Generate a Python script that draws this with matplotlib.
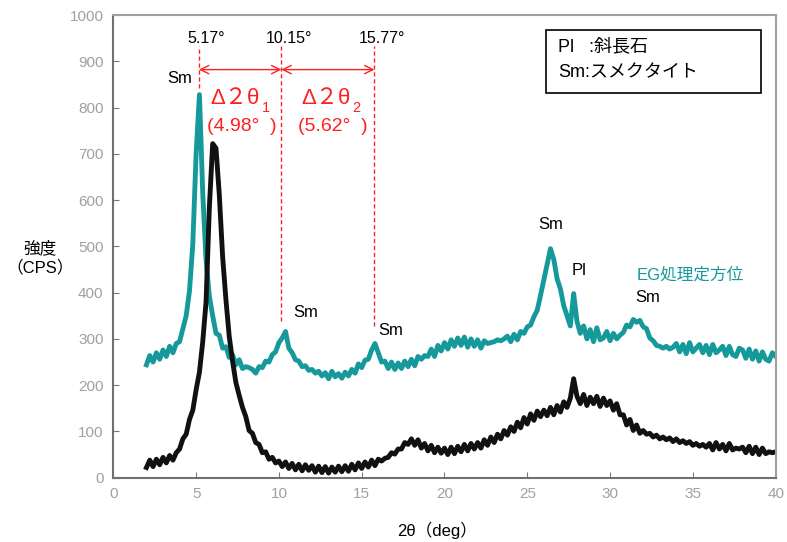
import numpy as np
import matplotlib
matplotlib.use('Agg')
import matplotlib.pyplot as plt
from matplotlib.patches import Rectangle

# 日本語 + 欧文のフォント (足りない字は次のフォントへ)
plt.rcParams['font.family'] = ['Liberation Sans', 'Noto Sans CJK JP']

# 2θ の格子 (0.2° 刻み)
two_theta = np.round(np.arange(2.0, 40.01, 0.2), 1)

# EG処理定方位 (teal)
cps_eg = [
    244, 264, 250, 270, 256, 276, 262, 284, 270, 290,   # 2.0-3.8
    294, 322, 350, 404, 505, 700, 828, 615, 470, 392,   # 4.0-5.8
    350, 312, 308, 280, 283, 260, 266, 244, 255, 236,   # 6.0-7.8
    240, 238, 234, 226, 240, 238, 252, 250, 266, 272,   # 8.0-9.8
    292, 302, 316, 280, 270, 255, 252, 240, 242, 232,   # 10.0-11.8
    234, 226, 230, 220, 227, 214, 230, 218, 225, 215,   # 12.0-13.8
    228, 220, 234, 226, 246, 238, 254, 256, 276, 290,   # 14.0-15.8
    270, 250, 252, 236, 250, 234, 248, 236, 252, 240,   # 16.0-17.8
    256, 242, 262, 256, 264, 262, 278, 262, 286, 274,   # 18.0-19.8
    292, 278, 298, 284, 302, 286, 304, 282, 300, 284,   # 20.0-21.8
    298, 280, 296, 290, 292, 294, 298, 296, 300, 306,   # 22.0-23.8
    294, 310, 298, 316, 312, 326, 330, 348, 362, 394,   # 24.0-25.8
    428, 462, 495, 472, 430, 408, 372, 350, 328, 398,   # 26.0-27.8
    338, 312, 328, 300, 320, 294, 324, 298, 302, 316,   # 28.0-29.8
    296, 312, 300, 308, 314, 330, 326, 342, 336, 340,   # 30.0-31.8
    326, 322, 302, 296, 286, 284, 280, 284, 278, 282,   # 32.0-33.8
    290, 272, 288, 268, 292, 272, 280, 288, 270, 286,   # 34.0-35.8
    266, 288, 270, 276, 284, 264, 284, 266, 262, 280,   # 36.0-37.8
    276, 258, 278, 256, 274, 252, 272, 256, 252, 270,   # 38.0-39.8
    262,                                                # 40.0
]

# 未処理 (black)
cps_raw = [
    22, 38, 24, 40, 28, 44, 32, 48, 38, 54,
    62, 84, 94, 126, 146, 190, 228, 294, 380, 585,
    722, 712, 612, 478, 385, 305, 252, 206, 178, 152,
    132, 102, 96, 76, 72, 54, 56, 40, 44, 32,
    36, 24, 34, 20, 31, 17, 29, 15, 28, 16,
    26, 12, 25, 11, 24, 10, 23, 12, 25, 13,
    26, 14, 29, 17, 32, 20, 34, 23, 38, 26,
    40, 36, 42, 44, 54, 51, 62, 62, 76, 72,
    84, 70, 82, 64, 74, 58, 70, 54, 66, 53,
    64, 50, 66, 52, 68, 56, 72, 58, 74, 62,
    76, 64, 82, 70, 88, 76, 94, 84, 102, 92,
    110, 100, 120, 108, 130, 116, 138, 124, 144, 132,
    146, 134, 152, 136, 156, 142, 164, 152, 172, 214,
    176, 160, 180, 156, 174, 160, 176, 154, 172, 156,
    166, 146, 160, 136, 136, 114, 126, 102, 114, 96,
    102, 94, 96, 88, 92, 84, 88, 82, 86, 78,
    84, 76, 80, 74, 78, 70, 74, 68, 72, 66,
    74, 60, 76, 62, 72, 58, 74, 60, 64, 62,
    66, 54, 68, 52, 66, 50, 64, 52, 56, 54,
    56,
]

# 底面反射の位置
peak_pos = [5.17, 10.15, 15.77]
peak_labels = ['5.17°', '10.15°', '15.77°']
delta_labels = ['(4.98°  )', '(5.62°  )']

teal = '#15999a'
red = '#ff2020'

fig = plt.figure(figsize=(7.87, 5.42), dpi=100)
ax = fig.add_axes([0.144, 0.1186, 0.8416, 0.8537])

ax.plot(two_theta, cps_eg, color=teal, lw=3.5)
ax.plot(two_theta, cps_raw, color='#111111', lw=3.5)

ax.set_xlim(0, 40)
ax.set_ylim(0, 1000)
ax.set_xticks(np.arange(0, 41, 5))
ax.set_yticks(np.arange(0, 1001, 100))
ax.tick_params(direction='in', length=4, color='#777777', labelcolor='#a0a0a0',
               labelsize=11, pad=7)
for side in ['left', 'bottom']:
    ax.spines[side].set_color('#707070')
    ax.spines[side].set_linewidth(1.5)
for side in ['top', 'right']:
    ax.spines[side].set_color('#a0a0a0')
    ax.spines[side].set_linewidth(1.5)

# 赤い破線と角度
bottoms = [842, 338, 328]
for x, lab, yb in zip(peak_pos, peak_labels, bottoms):
    ax.plot([x, x], [yb, 932], color=red, lw=1, ls=(0, (3, 2)))
    ax.text(x + 0.45, 950, lab, ha='center', va='center', fontsize=11.5)

for a, b in [(0, 1), (1, 2)]:
    ax.annotate('', xy=(peak_pos[b], 882), xytext=(peak_pos[a], 882),
                arrowprops=dict(arrowstyle='<->', color=red, lw=1,
                                shrinkA=0, shrinkB=0, mutation_scale=15))

for x0, sub, lab in [(5.85, '1', delta_labels[0]), (11.35, '2', delta_labels[1])]:
    ax.text(x0, 820, 'Δ２θ', color=red, fontsize=16, ha='left', va='center')
    ax.text(x0 + 3.1, 800, sub, color=red, fontsize=10.5, ha='left', va='center')
    ax.text(x0 - 0.2, 760, lab, color=red, fontsize=14, ha='left', va='center')

# ピーク名
ax.text(4.0, 862, 'Sm', fontsize=12, ha='center', va='center')
ax.text(11.6, 357, 'Sm', fontsize=12, ha='center', va='center')
ax.text(16.75, 318, 'Sm', fontsize=12, ha='center', va='center')
ax.text(26.4, 548, 'Sm', fontsize=12, ha='center', va='center')
ax.text(28.1, 447, 'Pl', fontsize=12, ha='center', va='center')
ax.text(32.3, 390, 'Sm', fontsize=12, ha='center', va='center')
ax.text(34.85, 438, 'EG処理定方位', color=teal, fontsize=12, ha='center', va='center')

# 凡例の枠
ax.add_patch(Rectangle((0.654, 0.832), 0.324, 0.136, transform=ax.transAxes,
                       fill=False, edgecolor='black', lw=1.2))
ax.text(0.671, 0.931, 'Pl   :斜長石', transform=ax.transAxes, fontsize=13, va='center')
ax.text(0.671, 0.875, 'Sm:スメクタイト', transform=ax.transAxes, fontsize=13, va='center')

fig.text(40 / 787, 1 - 258 / 542, '強度\n（CPS）', ha='center', va='center',
         fontsize=12, linespacing=1.3)
fig.text(437 / 787, 1 - 530 / 542, '2θ（deg）', ha='center', va='center', fontsize=12)

fig.savefig('out.png', dpi=100)
